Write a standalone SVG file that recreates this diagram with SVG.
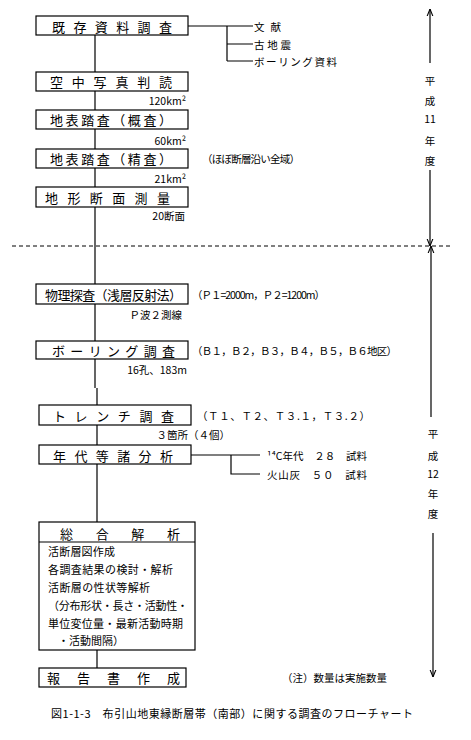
<svg xmlns="http://www.w3.org/2000/svg" width="471" height="740" viewBox="0 0 471 740">
<style>
text{font-family:"Noto Sans CJK JP","Noto Sans",sans-serif;fill:#000}
.t{font-size:13px;dominant-baseline:central}
.s{font-size:10.5px;dominant-baseline:central}
.b{font-size:11px;dominant-baseline:central}
.box{fill:#fff;stroke:#000;stroke-width:1.2}
.ln{fill:none;stroke:#000;stroke-width:1.2}
.dash{fill:none;stroke:#000;stroke-width:1;stroke-dasharray:4 3}
</style>
<defs>
<marker id="ah" viewBox="0 0 10 10" refX="10" refY="5" markerWidth="6" markerHeight="6" orient="auto"><path d="M0,1 L10,5 L0,9" fill="none" stroke="#000" stroke-width="1.5"/></marker>
</defs>
<rect width="471" height="740" fill="#fff"/>
<g id="connectors">
<path class="ln" d="M95,35 V388 M97,388 V405 M97,425 V445 M97,464 V522 M97,650 V668"/>
<path class="ln" d="M188,26 H227 M227,26 V61 M227,26 H253 M227,44 H253 M227,61 H253"/>
<path class="ln" d="M191,455 H260 M231,455 V474 H260"/>
<path class="dash" d="M12,246 H452"/>
<path class="ln" d="M430,63 V9" marker-end="url(#ah)"/>
<path class="ln" d="M430,170 V246" marker-end="url(#ah)"/>
<path class="ln" d="M431,417 V246" marker-end="url(#ah)"/>
<path class="ln" d="M433,533 V677" marker-end="url(#ah)"/>
</g>
<g id="n1"><rect class="box" x="36" y="16" width="152" height="19"/><text class="t" x="52" y="26" textLength="120" lengthAdjust="spacing">既存資料調査</text></g>
<g id="n1a"><text class="s" x="254" y="26" textLength="27" lengthAdjust="spacing">文献</text><text class="s" x="254" y="44" textLength="37" lengthAdjust="spacing">古地震</text><text class="s" x="254" y="61" textLength="83" lengthAdjust="spacing">ボーリング資料</text></g>
<g id="n2"><rect class="box" x="36" y="72" width="152" height="19"/><text class="t" x="50" y="81.5" textLength="122" lengthAdjust="spacing">空中写真判読</text><text class="s" x="186" y="100" text-anchor="end">120km²</text></g>
<g id="n3"><rect class="box" x="36" y="110" width="152" height="19"/><text class="t" x="50" y="119.5" textLength="122" lengthAdjust="spacing">地表踏査（概査）</text><text class="s" x="186" y="140" text-anchor="end">60km²</text></g>
<g id="n4"><rect class="box" x="36" y="149" width="152" height="19"/><text class="t" x="50" y="158.5" textLength="122" lengthAdjust="spacing">地表踏査（精査）</text><text class="s" x="202" y="158.5" textLength="98" lengthAdjust="spacing">（ほぼ断層沿い全域）</text><text class="s" x="186" y="178" text-anchor="end">21km²</text></g>
<g id="n5"><rect class="box" x="36" y="187" width="152" height="20"/><text class="t" x="45" y="197" textLength="125" lengthAdjust="spacing">地形断面測量</text><text class="s" x="185" y="215" text-anchor="end">20断面</text></g>
<g id="n6"><rect class="box" x="36" y="284" width="152" height="20"/><text class="t" x="45" y="294" textLength="137" lengthAdjust="spacing">物理探査（浅層反射法）</text><text class="s" x="192" y="294" textLength="133" lengthAdjust="spacing">（Ｐ１=2000m，Ｐ２=1200m）</text><text class="s" x="182" y="314" text-anchor="end">Ｐ波２測線</text></g>
<g id="n7"><rect class="box" x="36" y="341" width="152" height="18"/><text class="t" x="52" y="350" textLength="123" lengthAdjust="spacing">ボーリング調査</text><text class="s" x="192" y="350" textLength="205" lengthAdjust="spacing">（Ｂ１，Ｂ２，Ｂ３，Ｂ４，Ｂ５，Ｂ６地区）</text><text class="s" x="187" y="369" text-anchor="end">16孔、183m</text></g>
<g id="n8"><rect class="box" x="39" y="405" width="152" height="20"/><text class="t" x="53" y="415" textLength="121" lengthAdjust="spacing">トレンチ調査</text><text class="s" x="197" y="415" textLength="173" lengthAdjust="spacing">（Ｔ１、Ｔ２、Ｔ３.１，Ｔ３.２）</text><text class="s" x="230" y="434" text-anchor="end">３箇所（４個）</text></g>
<g id="n9"><rect class="box" x="39" y="445" width="152" height="19"/><text class="t" x="53" y="455" textLength="120" lengthAdjust="spacing">年代等諸分析</text><text class="s" x="267" y="455" textLength="100" lengthAdjust="spacing">¹⁴C年代　２８　試料</text><text class="s" x="267" y="474" textLength="100" lengthAdjust="spacing">火山灰　５０　試料</text></g>
<g id="n10"><rect class="box" x="39" y="522" width="156" height="128"/><path class="ln" d="M39,542 H195"/><text class="t" x="60" y="533" textLength="120" lengthAdjust="spacing">総合解析</text>
<text class="b" x="48" y="551" textLength="67" lengthAdjust="spacing">活断層図作成</text>
<text class="b" x="48" y="569" textLength="125" lengthAdjust="spacing">各調査結果の検討・解析</text>
<text class="b" x="48" y="587" textLength="102" lengthAdjust="spacing">活断層の性状等解析</text>
<text class="b" x="48" y="605" textLength="140" lengthAdjust="spacing">（分布形状・長さ・活動性・</text>
<text class="b" x="48" y="623" textLength="135" lengthAdjust="spacing">単位変位量・最新活動時期</text>
<text class="b" x="58" y="640">・活動間隔）</text></g>
<g id="n11"><rect class="box" x="39" y="668" width="147" height="19"/><text class="t" x="47" y="677.5" textLength="133" lengthAdjust="spacing">報告書作成</text><text class="s" x="282" y="677" textLength="105" lengthAdjust="spacing">（注）数量は実施数量</text></g>
<g id="years">
<text class="s" x="430" y="80" text-anchor="middle">平</text><text class="s" x="430" y="100" text-anchor="middle">成</text><text class="s" x="430" y="118" text-anchor="middle">11</text><text class="s" x="430" y="140" text-anchor="middle">年</text><text class="s" x="430" y="160" text-anchor="middle">度</text>
<text class="s" x="433" y="433" text-anchor="middle">平</text><text class="s" x="433" y="455" text-anchor="middle">成</text><text class="s" x="433" y="473" text-anchor="middle">12</text><text class="s" x="433" y="493" text-anchor="middle">年</text><text class="s" x="433" y="513" text-anchor="middle">度</text>
</g>
<text class="b" x="51" y="713" textLength="362" lengthAdjust="spacing">図1-1-3　布引山地東縁断層帯（南部）に関する調査のフローチャート</text>
</svg>
